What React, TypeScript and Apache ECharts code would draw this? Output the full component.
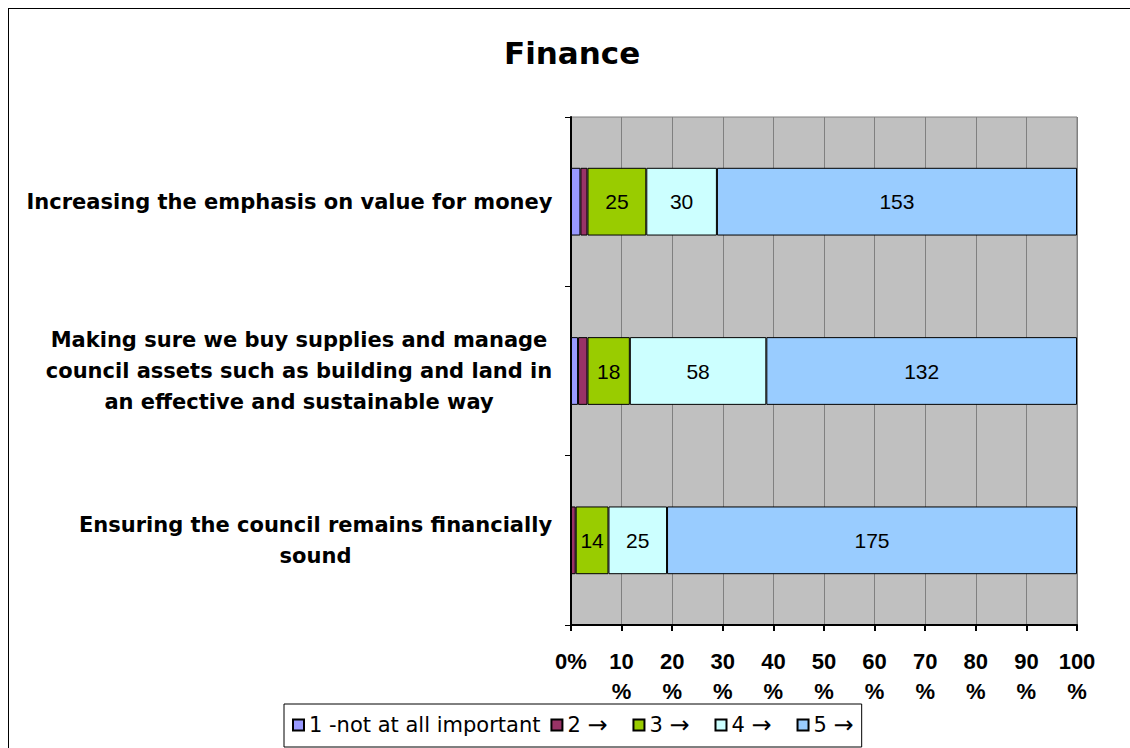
import React, { useEffect, useRef } from "react";
import * as echarts from "echarts";

const categories = [
  "Increasing the emphasis on value for money",
  "Making sure we buy supplies and manage\ncouncil assets such as building and land in\nan effective and sustainable way",
  "Ensuring the council remains financially\nsound",
];
const seriesNames = ["1 -not at all important", "2 →", "3 →", "4 →", "5 →"];
const rating1 = [4, 3, 0];
const rating2 = [3, 4, 2];
const rating3 = [25, 18, 14];
const rating4 = [30, 58, 25];
const rating5 = [153, 132, 175];
const colors = ["#9999FF", "#993366", "#99CC00", "#CCFFFF", "#99CCFF"];
const showLabels = [false, false, true, true, true];
const xTicks = [0, 10, 20, 30, 40, 50, 60, 70, 80, 90, 100];

const ARIAL = "Liberation Sans, Arial, sans-serif";
const WIDE = "DejaVu Sans, Verdana, sans-serif";
const Y_FONT_SIZE = 21;

export default function App() {
  const ref = useRef<HTMLDivElement>(null);
  useEffect(() => {
    if (!ref.current) return;
    const chart = echarts.init(ref.current, undefined, { renderer: "svg" });
    const all = [rating1, rating2, rating3, rating4, rating5];
    const totals = categories.map((_, i) => all.reduce((s, a) => s + a[i], 0));

    // measure widest line of each category label so multi-line labels are centred in their own block
    const ctx = document.createElement("canvas").getContext("2d") as CanvasRenderingContext2D;
    ctx.font = "bold " + Y_FONT_SIZE + "px DejaVu Sans";
    const rich: any = {};
    categories.forEach((c, i) => {
      const w = Math.max(...c.split("\n").map((l) => ctx.measureText(l).width));
      rich["c" + i] = {
        width: Math.ceil(w) + 1,
        align: "center",
        fontSize: Y_FONT_SIZE,
        fontWeight: "bold",
        color: "#000",
        fontFamily: WIDE,
        lineHeight: 31,
      };
    });

    const series = all.map((arr, si) => ({
      type: "bar",
      name: seriesNames[si],
      stack: "total",
      barCategoryGap: "60%",
      data: arr.map((v, i) => (v / totals[i]) * 100),
      itemStyle: { color: colors[si], borderColor: "#000", borderWidth: 1 },
      label: {
        show: showLabels[si],
        position: "inside",
        color: "#000",
        fontSize: 21,
        fontFamily: ARIAL,
        formatter: (p: any) => String(arr[p.dataIndex]),
      },
    }));
    const lastName = seriesNames[seriesNames.length - 1];
    chart.setOption({
      animation: false,
      backgroundColor: "#fff",
      title: {
        text: "Finance",
        left: 491,
        top: 24,
        textStyle: { fontSize: 31, fontWeight: "bold", color: "#000", fontFamily: WIDE },
      },
      legend: {
        data: seriesNames,
        top: 696,
        left: 276,
        itemWidth: 11,
        itemHeight: 11,
        itemGap: 10,
        icon: "rect",
        borderColor: "#000",
        borderWidth: 1,
        padding: [9, 8, 10, 8],
        formatter: (name: string) =>
          name.replace("→", name === lastName ? "{ae|→}" : "{ar|→}"),
        textStyle: {
          fontSize: 21,
          color: "#000",
          fontFamily: WIDE,
          rich: {
            ar: {
              fontSize: 24,
              fontFamily: WIDE,
              color: "#000",
              width: 35,
              align: "left",
              backgroundColor: "rgba(255,255,255,0.01)",
            },
            ae: { fontSize: 24, fontFamily: WIDE, color: "#000" },
          },
        },
      },
      grid: {
        left: 563,
        top: 109,
        width: 506,
        height: 508,
        show: true,
        backgroundColor: "#C0C0C0",
        borderColor: "#808080",
        borderWidth: 1,
      },
      xAxis: {
        type: "value",
        min: 0,
        max: 100,
        interval: 10,
        axisLine: { show: true, lineStyle: { color: "#000", width: 2 } },
        axisTick: { show: true, length: 6, lineStyle: { color: "#000", width: 2 } },
        splitLine: { show: true, lineStyle: { color: "#808080", width: 1 } },
        axisLabel: {
          margin: 21,
          fontSize: 22,
          fontWeight: "bold",
          color: "#000",
          fontFamily: ARIAL,
          lineHeight: 30,
          formatter: (v: number) => (xTicks.indexOf(v) === 0 ? v + "%" : v + "\n%"),
        },
      },
      yAxis: {
        type: "category",
        data: categories,
        inverse: true,
        axisLine: { show: true, lineStyle: { color: "#000", width: 2 } },
        axisTick: { show: true, length: 6, lineStyle: { color: "#000", width: 1 } },
        splitLine: { show: false },
        axisLabel: {
          margin: 18,
          fontSize: Y_FONT_SIZE,
          fontWeight: "bold",
          color: "#000",
          fontFamily: WIDE,
          lineHeight: 31,
          formatter: (v: string, idx: number) =>
            v
              .split("\n")
              .map((l) => "{c" + idx + "|" + l + "}")
              .join("\n"),
          rich,
        },
      },
      graphic: [
        { type: "line", shape: { x1: 0, y1: 0.5, x2: 1200, y2: 0.5 }, style: { stroke: "#000", lineWidth: 1 } },
        { type: "line", shape: { x1: 0.5, y1: 0, x2: 0.5, y2: 800 }, style: { stroke: "#000", lineWidth: 1 } },
      ],
      series,
    });
    return () => chart.dispose();
  }, []);
  return (
    <div
      ref={ref}
      style={{ position: "absolute", left: 8, top: 8, width: 1122, height: 740 }}
    />
  );
}
